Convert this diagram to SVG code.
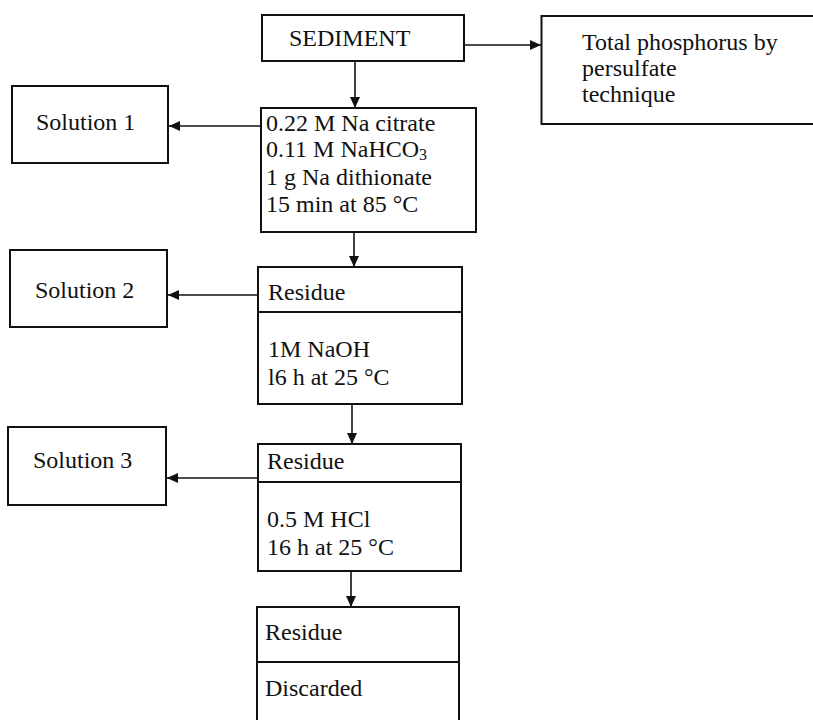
<svg xmlns="http://www.w3.org/2000/svg" width="813" height="720" viewBox="0 0 813 720">
<defs>
<style>
.box{fill:#fff;stroke:#111;stroke-width:2}
.div{stroke:#111;stroke-width:2}
.t{font-family:"Liberation Serif","Times New Roman",serif;font-size:24px;fill:#111}
.c{stroke:#111;stroke-width:1.6;fill:none;marker-end:url(#ah)}
</style>
<marker id="ah" markerUnits="userSpaceOnUse" markerWidth="12" markerHeight="10" refX="11" refY="5" orient="auto">
<path d="M0,0 L11,5 L0,10 z" fill="#111"/>
</marker>
</defs>
<rect width="813" height="720" fill="#fff"/>
<g id="connectors">
<line class="c" x1="464" y1="45" x2="541" y2="45"/>
<line class="c" x1="355" y1="61" x2="355" y2="108"/>
<line class="c" x1="261" y1="126" x2="169" y2="126"/>
<line class="c" x1="354" y1="232" x2="354" y2="267"/>
<line class="c" x1="258" y1="295" x2="168" y2="295"/>
<line class="c" x1="352" y1="404" x2="352" y2="444"/>
<line class="c" x1="258" y1="478" x2="167" y2="478"/>
<line class="c" x1="351" y1="571" x2="351" y2="607"/>
</g>
<g id="sediment">
<rect class="box" x="262" y="15" width="202" height="46"/>
<text class="t" x="289" y="46">SEDIMENT</text>
</g>
<g id="total-phosphorus">
<rect class="box" x="541.5" y="16" width="290" height="108"/>
<text class="t" x="582" y="50">Total phosphorus by</text>
<text class="t" x="582" y="76">persulfate</text>
<text class="t" x="582" y="102">technique</text>
</g>
<g id="extraction-1">
<rect class="box" x="261" y="108" width="215" height="124"/>
<text class="t" x="266" y="131">0.22 M Na citrate</text>
<text class="t" x="266" y="157">0.11 M NaHCO<tspan dy="3" font-size="16">3</tspan></text>
<text class="t" x="266" y="185">1 g Na dithionate</text>
<text class="t" x="266" y="212">15 min at 85 °C</text>
</g>
<g id="solution-1">
<rect class="box" x="12" y="86" width="156" height="77"/>
<text class="t" x="36" y="130">Solution 1</text>
</g>
<g id="residue-2">
<rect class="box" x="258" y="267" width="204" height="137"/>
<line class="div" x1="258" y1="312" x2="462" y2="312"/>
<text class="t" x="268" y="300">Residue</text>
<text class="t" x="268" y="357">1M NaOH</text>
<text class="t" x="268" y="385">l6 h at 25 °C</text>
</g>
<g id="solution-2">
<rect class="box" x="10" y="250" width="157" height="77"/>
<text class="t" x="35" y="298">Solution 2</text>
</g>
<g id="residue-3">
<rect class="box" x="258" y="444" width="203" height="127"/>
<line class="div" x1="258" y1="482" x2="461" y2="482"/>
<text class="t" x="267" y="469">Residue</text>
<text class="t" x="267" y="527">0.5 M HCl</text>
<text class="t" x="267" y="555">16 h at 25 °C</text>
</g>
<g id="solution-3">
<rect class="box" x="8" y="427" width="158" height="78"/>
<text class="t" x="33" y="468">Solution 3</text>
</g>
<g id="residue-4">
<rect class="box" x="257" y="607" width="202" height="125"/>
<line class="div" x1="257" y1="662" x2="459" y2="662"/>
<text class="t" x="265" y="640">Residue</text>
<text class="t" x="265" y="696">Discarded</text>
</g>
</svg>
